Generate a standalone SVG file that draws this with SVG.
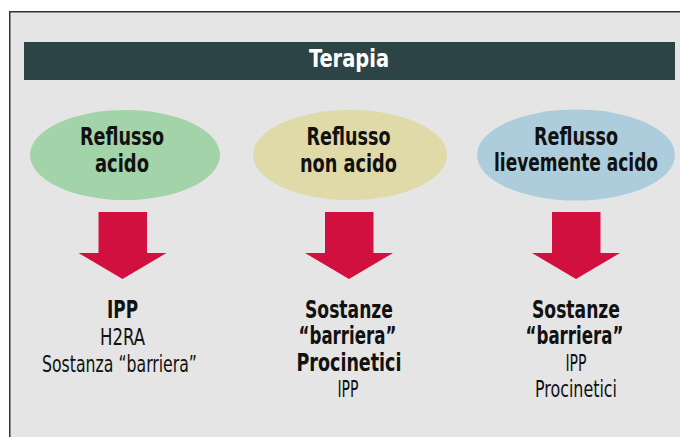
<svg xmlns="http://www.w3.org/2000/svg" width="680" height="437" viewBox="0 0 680 437">
  <defs>
    <style>
      .t { font-family: "Liberation Sans Narrow", "DejaVu Sans Condensed", "Liberation Sans", sans-serif; fill: #111; text-anchor: middle; }
      .b { font-weight: bold; font-size: 24px; }
      .r { font-weight: normal; font-size: 23.5px; }
      .title { font-family: "Liberation Sans Narrow", "DejaVu Sans Condensed", "Liberation Sans", sans-serif; font-weight: bold; font-size: 24px; fill: #ffffff; text-anchor: middle; }
      .arrow { fill: #d21040; }
    </style>
  </defs>
  <rect x="0" y="0" width="680" height="437" fill="#ffffff"/>
  <rect id="frame" x="9.75" y="11.75" width="680" height="440" fill="#e5e5e5" stroke="#333333" stroke-width="1.5"/>

  <g id="header">
    <rect x="24" y="42" width="651" height="38" fill="#2c4446"/>
    <text class="title" x="349" y="67" textLength="80" lengthAdjust="spacingAndGlyphs">Terapia</text>
  </g>

  <g id="node-acido">
    <ellipse cx="125" cy="155" rx="95" ry="45" fill="#a3d3a8"/>
    <text class="t b" x="122" y="145" textLength="84" lengthAdjust="spacingAndGlyphs">Reflusso</text>
    <text class="t b" x="122" y="171.5" textLength="54" lengthAdjust="spacingAndGlyphs">acido</text>
  </g>

  <g id="node-non-acido">
    <ellipse cx="350" cy="155" rx="97" ry="45" fill="#dfdaa8"/>
    <text class="t b" x="348.5" y="145" textLength="84" lengthAdjust="spacingAndGlyphs">Reflusso</text>
    <text class="t b" x="348.5" y="171.5" textLength="97" lengthAdjust="spacingAndGlyphs">non acido</text>
  </g>

  <g id="node-lievemente-acido">
    <ellipse cx="576" cy="155" rx="99" ry="45.5" fill="#adcddd"/>
    <text class="t b" x="576" y="145" textLength="84" lengthAdjust="spacingAndGlyphs">Reflusso</text>
    <text class="t b" x="576" y="171" textLength="164" lengthAdjust="spacingAndGlyphs">lievemente acido</text>
  </g>

  <g id="connectors">
    <path class="arrow" d="M98.5,212 H147 V253 H166.5 L122.5,279 L78.5,253 H98.5 Z"/>
    <path class="arrow" d="M325,212 H373.5 V253 H393 L349,279 L305,253 H325 Z"/>
    <path class="arrow" d="M552,212 H600.5 V253 H620 L576,279 L532,253 H552 Z"/>
  </g>

  <g id="therapy-acido">
    <text class="t b" x="122.5" y="318" textLength="31" lengthAdjust="spacingAndGlyphs">IPP</text>
    <text class="t r" x="122.5" y="345" textLength="45" lengthAdjust="spacingAndGlyphs">H2RA</text>
    <text class="t r" x="119.5" y="372" textLength="155" lengthAdjust="spacingAndGlyphs">Sostanza “barriera”</text>
  </g>

  <g id="therapy-non-acido">
    <text class="t b" x="349" y="318" textLength="88" lengthAdjust="spacingAndGlyphs">Sostanze</text>
    <text class="t b" x="347.5" y="344" textLength="98" lengthAdjust="spacingAndGlyphs">“barriera”</text>
    <text class="t b" x="349" y="370.5" textLength="105" lengthAdjust="spacingAndGlyphs">Procinetici</text>
    <text class="t r" x="348" y="397" textLength="21" lengthAdjust="spacingAndGlyphs">IPP</text>
  </g>

  <g id="therapy-lievemente-acido">
    <text class="t b" x="576" y="318" textLength="88" lengthAdjust="spacingAndGlyphs">Sostanze</text>
    <text class="t b" x="574.5" y="344" textLength="98" lengthAdjust="spacingAndGlyphs">“barriera”</text>
    <text class="t r" x="576" y="370.5" textLength="21" lengthAdjust="spacingAndGlyphs">IPP</text>
    <text class="t r" x="576" y="397" textLength="82" lengthAdjust="spacingAndGlyphs">Procinetici</text>
  </g>
</svg>
